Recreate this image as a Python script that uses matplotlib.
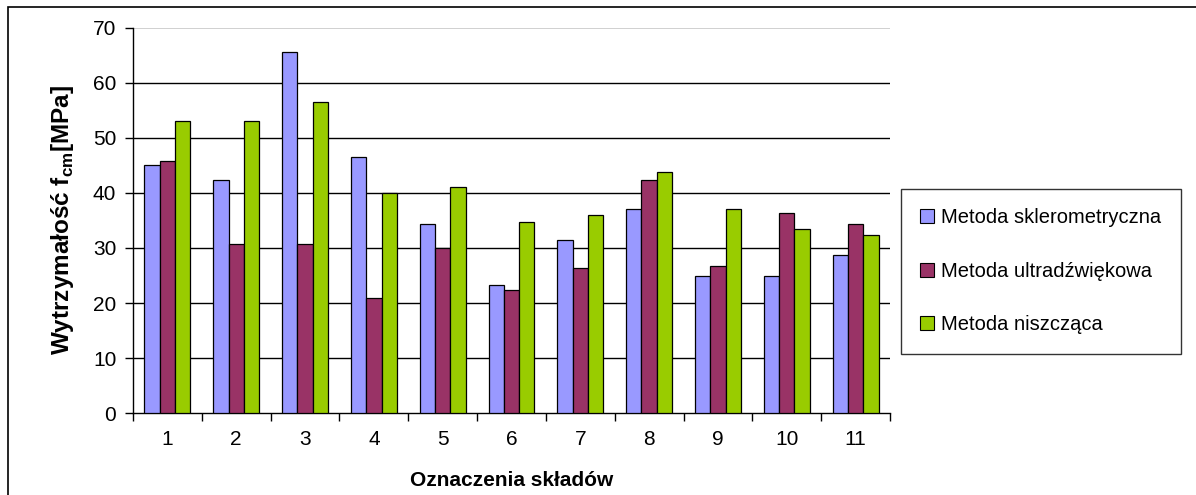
import matplotlib
matplotlib.use("Agg")
import matplotlib.pyplot as plt
import numpy as np
from matplotlib.patches import Rectangle

plt.rcParams['font.family'] = ['Liberation Sans', 'DejaVu Sans']

# Compositions and compressive strength by test method
categories = ['1', '2', '3', '4', '5', '6', '7', '8', '9', '10', '11']
series_names = ['Metoda sklerometryczna', 'Metoda ultradźwiękowa', 'Metoda niszcząca']
sklerometryczna = [45, 42.3, 65.5, 46.5, 34.4, 23.3, 31.5, 37, 24.9, 24.9, 28.8]
ultradzwiekowa = [45.8, 30.8, 30.8, 20.9, 30, 22.4, 26.4, 42.3, 26.8, 36.4, 34.4]
niszczaca = [53, 53, 56.5, 39.9, 41, 34.8, 35.9, 43.8, 37, 33.5, 32.3]
y_ticks = [0, 10, 20, 30, 40, 50, 60, 70]

colors = ['#9999FF', '#993366', '#99CC00']

W, H = 1196, 495
fig = plt.figure(figsize=(W / 100, H / 100), dpi=100)

# outer chart frame
fig.patches.append(Rectangle((8 / W, -0.1), 1.2, 1 - 7 / H + 0.1,
                             transform=fig.transFigure, fill=False,
                             edgecolor='black', linewidth=1.2, zorder=0))

ax_l, ax_r, ax_t, ax_b = 133, 890, 27.5, 413.3
ax = fig.add_axes([ax_l / W, 1 - ax_b / H, (ax_r - ax_l) / W, (ax_b - ax_t) / H])

x = np.arange(len(categories))
bw = 0.222
for k, (vals, col, name) in enumerate(zip([sklerometryczna, ultradzwiekowa, niszczaca],
                                          colors, series_names)):
    ax.bar(x + (k - 1) * bw, vals, width=bw, color=col, edgecolor='black',
           linewidth=0.9, label=name, zorder=3)

ax.set_xlim(-0.5, len(categories) - 0.5)
ax.set_ylim(0, 70)
ax.set_yticks(y_ticks)
ax.set_yticklabels([str(v) for v in y_ticks], fontsize=15)

for v in y_ticks[1:-1]:
    ax.axhline(v, color='black', linewidth=1.0, zorder=1)
ax.axhline(70, color='#c8c8c8', linewidth=1.2, zorder=1)

ax.set_xticks(x)
ax.set_xticklabels(categories, fontsize=15)
ax.tick_params(axis='x', length=0, pad=12)
ax.set_xticks(np.arange(-0.5, len(categories)), minor=True)
ax.tick_params(axis='x', which='minor', length=6, width=1, direction='out')
ax.tick_params(axis='y', length=6, width=1, direction='out', pad=6)

for s in ['top', 'right']:
    ax.spines[s].set_visible(False)
ax.spines['left'].set_linewidth(1.0)
ax.spines['bottom'].set_linewidth(1.0)

ax.set_ylabel('Wytrzymałość f$_{\\mathregular{cm}}$[MPa]', fontsize=17.5,
              fontweight='bold', labelpad=12)
ax.set_xlabel('Oznaczenia składów', fontsize=15, fontweight='bold', labelpad=16)

leg = fig.legend(loc='upper left', bbox_to_anchor=(901 / W, 1 - 189 / H),
                 fontsize=14.5, frameon=True, fancybox=False, edgecolor='black',
                 handlelength=0.7, handleheight=0.7, handletextpad=0.35,
                 labelspacing=1.72, borderpad=0.95, borderaxespad=0)
leg.get_frame().set_linewidth(1.0)
for h in leg.legend_handles:
    h.set_linewidth(0.8)

fig.savefig('out.png', dpi=100)
